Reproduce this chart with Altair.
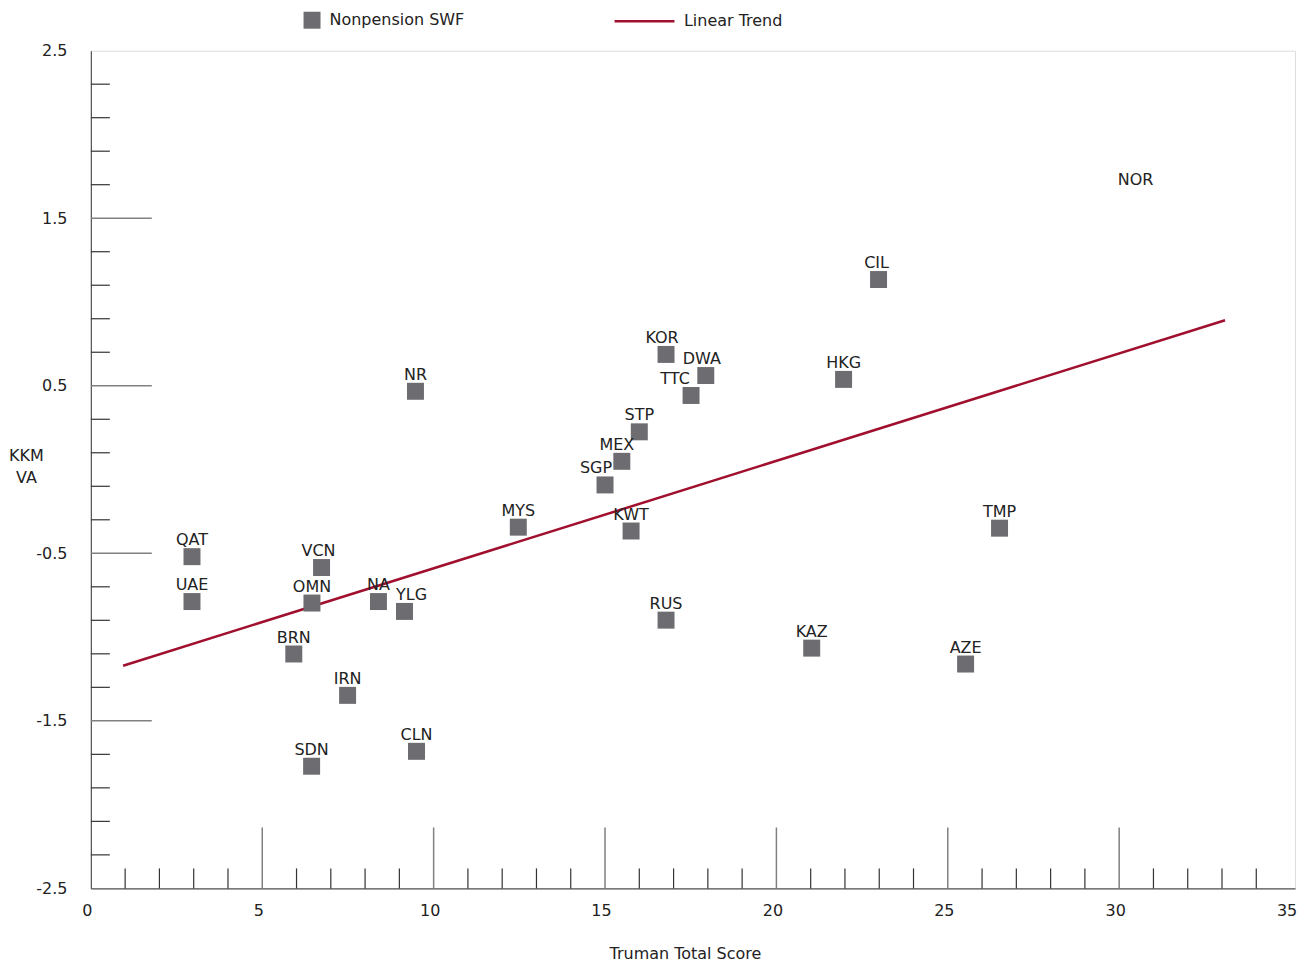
import altair as alt
import pandas as pd

# ---- data ----
codes = ["QAT", "UAE", "VCN", "OMN", "NA", "YLG", "BRN", "IRN", "SDN", "CLN",
         "NR", "MYS", "SGP", "MEX", "STP", "KWT", "KOR", "TTC", "DWA", "RUS",
         "HKG", "CIL", "KAZ", "AZE", "TMP", "NOR"]
truman = [2.95, 2.95, 6.73, 6.45, 8.39, 9.15, 5.92, 7.49, 6.44, 9.50,
          9.47, 12.47, 15.00, 15.49, 16.00, 15.76, 16.78, 17.51, 17.94, 16.78,
          21.96, 22.98, 21.03, 25.52, 26.51, 30.48]
kkm = [-0.520, -0.788, -0.585, -0.797, -0.788, -0.847, -1.101, -1.348, -1.771, -1.682,
       0.467, -0.344, -0.092, 0.049, 0.225, -0.367, 0.687, 0.442, 0.561, -0.899,
       0.538, 1.134, -1.066, -1.161, -0.350, 1.627]
no_marker = ["NOR"]  # label shown without a marker in the reference

trend_x = [0.94, 33.09]
trend_y = [-1.171, 0.891]

x_label_values = [0, 5, 10, 15, 20, 25, 30, 35]
y_label_values = [-2.5, -1.5, -0.5, 0.5, 1.5, 2.5]
x_major_ticks = [5, 10, 15, 20, 25, 30]
x_minor_ticks = [1, 2, 3, 4, 6, 7, 8, 9, 11, 12, 13, 14, 16, 17, 18, 19,
                 21, 22, 23, 24, 26, 27, 28, 29, 31, 32, 33, 34]
y_major_ticks = [-1.5, -0.5, 0.5, 1.5]
y_minor_ticks = [-2.3, -2.1, -1.9, -1.7, -1.3, -1.1, -0.9, -0.7, -0.3, -0.1,
                 0.1, 0.3, 0.7, 0.9, 1.1, 1.3, 1.7, 1.9, 2.1, 2.3]

# label nudges (pixels) - style only
label_nudge = {"TTC": -16, "SGP": -9, "YLG": 7, "KOR": -4, "DWA": -4, "MEX": -5, "VCN": -3, "CIL": -2}

FONT = "DejaVu Sans"
FS = 16
TXT = "#222"
W, H = 1206, 839

pts = pd.DataFrame({"code": codes, "x": truman, "y": kkm})
pts["series"] = "Nonpension SWF"
pts["marker"] = [c not in no_marker for c in codes]
pts["nudge"] = [label_nudge.get(c, 0) for c in codes]
trend = pd.DataFrame({"x": trend_x, "y": trend_y, "series": "Linear Trend"})

xscale = alt.Scale(domain=[0, 35.13], nice=False, zero=False)
yscale = alt.Scale(domain=[-2.5, 2.5], nice=False, zero=False)

x_axis = alt.Axis(values=x_label_values, ticks=False, tickSize=0, grid=False,
                  domainColor="#555", domainWidth=1.2, labelPadding=14, labelFontSize=FS,
                  labelFont=FONT, labelColor=TXT, labelOffset=-4, labelFlush=False,
                  labelExpr="'' + datum.value",
                  title="Truman Total Score", titleFont=FONT, titleFontSize=FS,
                  titleFontWeight="normal", titleColor=TXT, titleX=595, titleY=65,
                  titleBaseline="middle", titleAlign="center")
y_axis = alt.Axis(values=y_label_values, ticks=False, tickSize=0, grid=False,
                  domainColor="#555", domainWidth=1.2, labelPadding=24, labelFontSize=FS,
                  labelFont=FONT, labelColor=TXT, labelFlush=False, labelExpr="'' + datum.value",
                  title=["KKM", "VA"], titleFont=FONT, titleFontSize=FS, titleFontWeight="normal",
                  titleColor=TXT, titleAngle=0, titleAlign="center", titleBaseline="middle",
                  titleX=-65, titleY=405, titleLineHeight=23)

points = alt.Chart(pts).transform_filter("datum.marker").mark_square(size=289, opacity=1).encode(
    x=alt.X("x:Q", scale=xscale, axis=x_axis),
    y=alt.Y("y:Q", scale=yscale, axis=y_axis),
    color=alt.Color("series:N",
                    scale=alt.Scale(domain=["Nonpension SWF"], range=["#6d6c70"]),
                    legend=alt.Legend(orient="none", legendX=212, legendY=-40, title=None,
                                      symbolType="square", symbolSize=289, symbolOpacity=1,
                                      labelFont=FONT, labelFontSize=FS, labelColor=TXT,
                                      labelOffset=8, padding=0)),
)

label_layers = []
for n in sorted(set(pts["nudge"])):
    label_layers.append(
        alt.Chart(pts).transform_filter(f"datum.nudge == {n}").mark_text(
            dy=-16.5, dx=n, fontSize=FS, font=FONT, color=TXT, baseline="middle", align="center"
        ).encode(x=alt.X("x:Q", scale=xscale), y=alt.Y("y:Q", scale=yscale), text="code:N")
    )

trend_line = alt.Chart(trend).mark_line(strokeWidth=2.5).encode(
    x=alt.X("x:Q", scale=xscale),
    y=alt.Y("y:Q", scale=yscale),
    stroke=alt.Stroke("series:N",
                      scale=alt.Scale(domain=["Linear Trend"], range=["#a0102e"]),
                      legend=alt.Legend(orient="none", legendX=523, legendY=-61, title=None,
                                        symbolType="stroke", symbolSize=3600, symbolStrokeWidth=2.5,
                                        labelFont=FONT, labelFontSize=FS, labelColor=TXT,
                                        labelOffset=8, padding=0)),
)

xmaj = alt.Chart(pd.DataFrame({"v": x_major_ticks})).mark_rule(color="#808080", strokeWidth=1.5).encode(
    x=alt.X("v:Q", scale=xscale), y=alt.value(H), y2=alt.value(H - 61))
xmin = alt.Chart(pd.DataFrame({"v": x_minor_ticks})).mark_rule(color="#333", strokeWidth=1.2).encode(
    x=alt.X("v:Q", scale=xscale), y=alt.value(H), y2=alt.value(H - 20))
ymaj = alt.Chart(pd.DataFrame({"v": y_major_ticks})).mark_rule(color="#808080", strokeWidth=1.5).encode(
    y=alt.Y("v:Q", scale=yscale), x=alt.value(0), x2=alt.value(61))
ymin = alt.Chart(pd.DataFrame({"v": y_minor_ticks})).mark_rule(color="#333", strokeWidth=1.2).encode(
    y=alt.Y("v:Q", scale=yscale), x=alt.value(0), x2=alt.value(19))

chart = alt.layer(xmaj, xmin, ymaj, ymin, trend_line, points, *label_layers).resolve_legend(
    color="independent", stroke="independent"
).properties(
    width=W, height=H,
    autosize=alt.AutoSizeParams(type="none"),
    padding={"left": 83, "top": 42, "right": 6, "bottom": 76},
).configure_view(stroke="#777", strokeWidth=1.2).configure(background="white")

chart.save("out.html", embed_options={"renderer": "svg", "actions": False})
